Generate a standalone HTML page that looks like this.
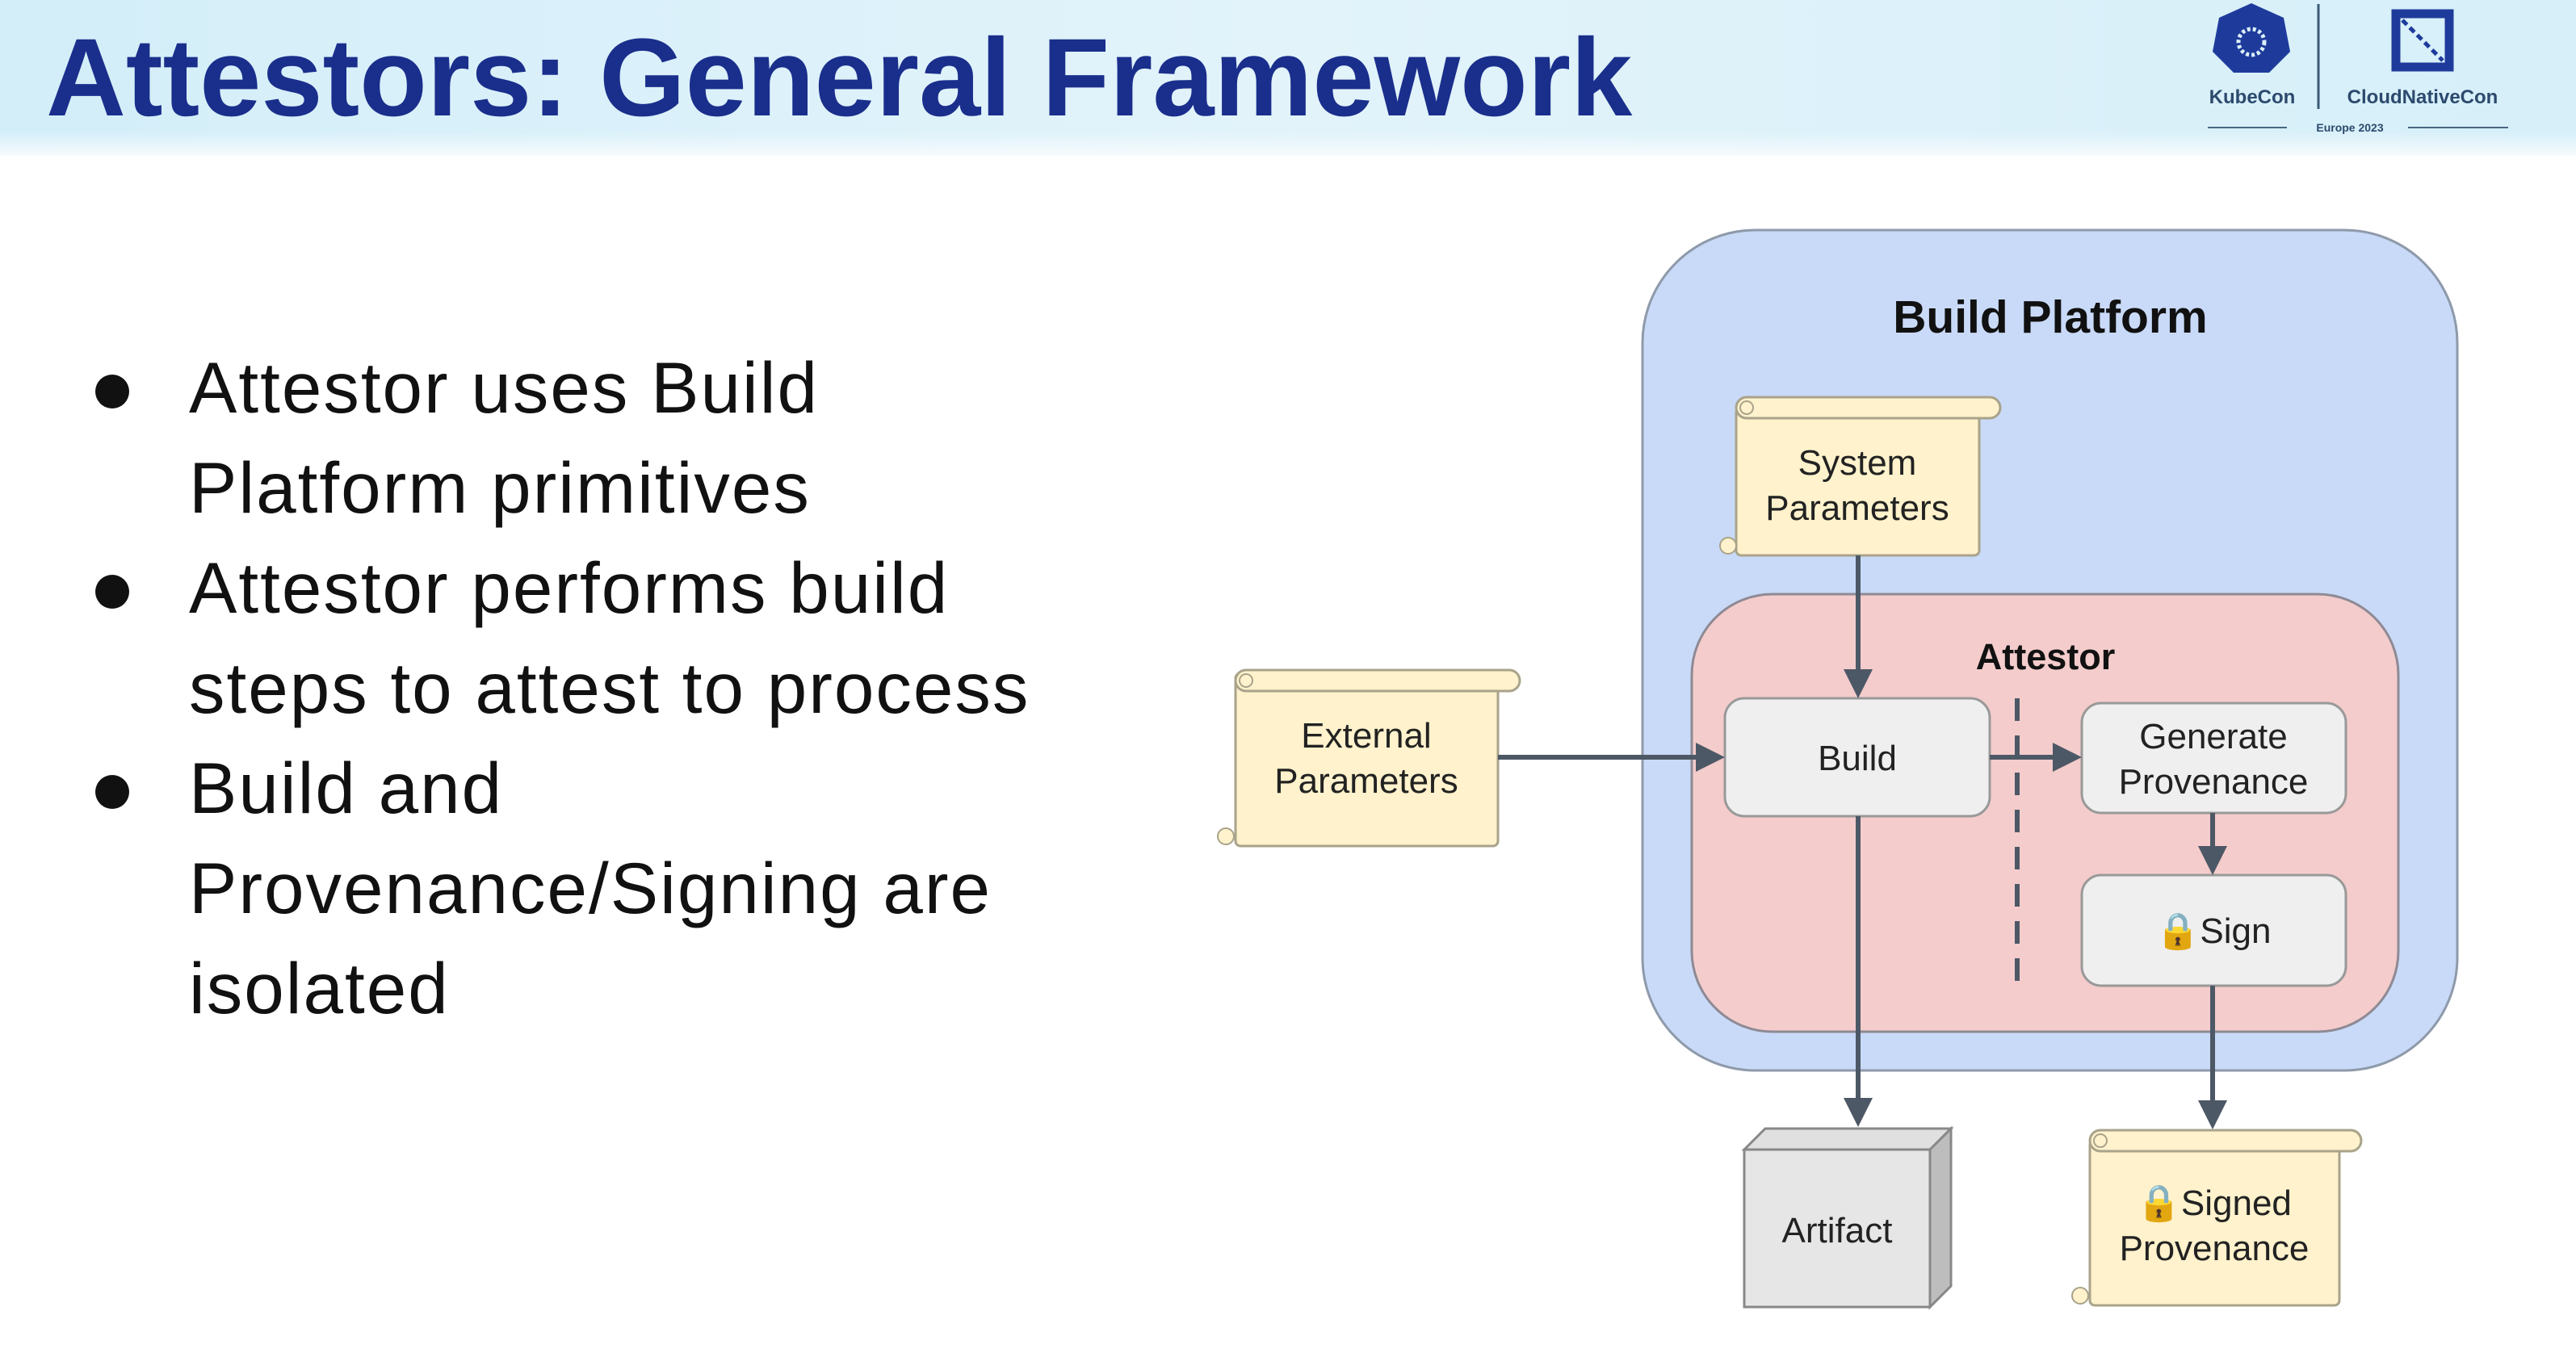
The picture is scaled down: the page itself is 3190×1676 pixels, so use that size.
<!DOCTYPE html>
<html><head><meta charset="utf-8"><style>
html,body{margin:0;padding:0;}
body{width:3190px;height:1676px;position:relative;overflow:hidden;background:#fff;font-family:"Liberation Sans",sans-serif;}
.hdr{position:absolute;left:0;top:0;width:3190px;height:193px;background:linear-gradient(90deg,#d3eef9 0%,#e2f3fa 50%,#d6eff9 100%);}
.hdr:after{content:"";position:absolute;left:0;right:0;bottom:0;height:30px;background:linear-gradient(#e4f4fa00,#f6fbfd);}
.title{position:absolute;left:57px;top:18px;font-size:137px;font-weight:bold;color:#1a2e8c;white-space:nowrap;}
.bul{position:absolute;left:234px;font-size:89px;letter-spacing:2px;color:#111;white-space:nowrap;line-height:124px;}
.dot{position:absolute;left:118px;width:42px;height:42px;border-radius:50%;background:#111;}
</style></head><body>
<div class="hdr"></div>
<div class="title">Attestors: General Framework</div>
<svg style="position:absolute;left:0;top:0" width="3190" height="200">
 <g fill="#1e3b9c">
  <polygon points="2788,4 2828,22 2836,64 2810,90 2766,90 2740,64 2748,22"/>
 </g>
 <circle cx="2788" cy="52" r="16" fill="none" stroke="#dceff8" stroke-width="5" stroke-dasharray="4 3"/>
 <line x1="2871" y1="5" x2="2871" y2="135" stroke="#3b5a78" stroke-width="3"/>
 <rect x="2967" y="17" width="66" height="66" fill="none" stroke="#1e3b9c" stroke-width="11"/>
 <line x1="2975" y1="25" x2="3025" y2="75" stroke="#1e3b9c" stroke-width="5" stroke-dasharray="8 5"/>
 <text x="2789" y="128" font-size="24" font-weight="bold" fill="#2c4a6e" text-anchor="middle">KubeCon</text>
 <text x="3000" y="128" font-size="24" font-weight="bold" fill="#2c4a6e" text-anchor="middle">CloudNativeCon</text>
 <text x="2910" y="163" font-size="14" font-weight="bold" fill="#2c4a6e" text-anchor="middle">Europe 2023</text>
 <line x1="2734" y1="158" x2="2832" y2="158" stroke="#4a6680" stroke-width="2"/>
 <line x1="2982" y1="158" x2="3106" y2="158" stroke="#4a6680" stroke-width="2"/>
</svg>

<div class="dot" style="top:464px"></div>
<div class="dot" style="top:712px"></div>
<div class="dot" style="top:960px"></div>
<div class="bul" style="top:418px">Attestor uses Build<br>Platform primitives</div>
<div class="bul" style="top:666px">Attestor performs build<br>steps to attest to process</div>
<div class="bul" style="top:914px">Build and<br>Provenance/Signing are<br>isolated</div>

<svg style="position:absolute;left:0;top:0" width="3190" height="1676" font-family="Liberation Sans, sans-serif">
 <defs>
  <marker id="ah" markerWidth="6" markerHeight="6" refX="5" refY="3" orient="auto" markerUnits="strokeWidth">
   <path d="M0,0 L6,3 L0,6 z" fill="#4d5866"/>
  </marker>
 </defs>
 <rect x="2034" y="285" width="1009" height="1041" rx="140" fill="#c9daf8" stroke="#8e9aaa" stroke-width="3"/>
 <text x="2539" y="412" font-size="57" font-weight="bold" fill="#111" text-anchor="middle">Build Platform</text>
 <rect x="2150" y="505" width="301" height="183" rx="6" fill="#fff2cc" stroke="#a9a38a" stroke-width="3"/>
 <rect x="2150" y="492" width="327" height="26" rx="13" fill="#fff2cc" stroke="#a9a38a" stroke-width="3"/>
 <circle cx="2163" cy="505" r="8" fill="#fff2cc" stroke="#a9a38a" stroke-width="2"/>
 <circle cx="2140" cy="676" r="10" fill="#fff2cc" stroke="#a9a38a" stroke-width="2"/>
 <text x="2300" y="588" font-size="44" fill="#222" text-anchor="middle">System</text>
 <text x="2300" y="644" font-size="44" fill="#222" text-anchor="middle">Parameters</text>
 <rect x="2095" y="736" width="875" height="542" rx="100" fill="#f4cccc" stroke="#8e8a94" stroke-width="3"/>
 <text x="2533" y="829" font-size="45" font-weight="bold" fill="#111" text-anchor="middle">Attestor</text>
 <rect x="2136" y="865" width="328" height="146" rx="24" fill="#efefef" stroke="#999" stroke-width="3"/>
 <text x="2300" y="954" font-size="44" fill="#222" text-anchor="middle">Build</text>
 <rect x="2578" y="871" width="327" height="136" rx="24" fill="#efefef" stroke="#999" stroke-width="3"/>
 <text x="2741" y="927" font-size="44" fill="#222" text-anchor="middle">Generate</text>
 <text x="2741" y="983" font-size="44" fill="#222" text-anchor="middle">Provenance</text>
 <rect x="2578" y="1084" width="327" height="137" rx="24" fill="#efefef" stroke="#999" stroke-width="3"/>
 <text x="2741" y="1168" font-size="44" fill="#222" text-anchor="middle">🔒Sign</text>
 <line x1="2498" y1="865" x2="2498" y2="1221" stroke="#4d5866" stroke-width="6" stroke-dasharray="28 18"/>
 <rect x="1530" y="834" width="325" height="214" rx="6" fill="#fff2cc" stroke="#a9a38a" stroke-width="3"/>
 <rect x="1530" y="830" width="352" height="26" rx="13" fill="#fff2cc" stroke="#a9a38a" stroke-width="3"/>
 <circle cx="1543" cy="843" r="8" fill="#fff2cc" stroke="#a9a38a" stroke-width="2"/>
 <circle cx="1518" cy="1036" r="10" fill="#fff2cc" stroke="#a9a38a" stroke-width="2"/>
 <text x="1692" y="926" font-size="44" fill="#222" text-anchor="middle">External</text>
 <text x="1692" y="982" font-size="44" fill="#222" text-anchor="middle">Parameters</text>
 <polygon points="2160,1424 2186,1398 2416,1398 2390,1424" fill="#e0e0e0" stroke="#888" stroke-width="3"/>
 <polygon points="2390,1424 2416,1398 2416,1593 2390,1619" fill="#bdbdbd" stroke="#888" stroke-width="3"/>
 <rect x="2160" y="1424" width="230" height="195" fill="#e6e6e6" stroke="#888" stroke-width="3"/>
 <text x="2275" y="1539" font-size="44" fill="#222" text-anchor="middle">Artifact</text>
 <rect x="2588" y="1412" width="309" height="205" rx="6" fill="#fff2cc" stroke="#a9a38a" stroke-width="3"/>
 <rect x="2588" y="1400" width="336" height="26" rx="13" fill="#fff2cc" stroke="#a9a38a" stroke-width="3"/>
 <circle cx="2601" cy="1413" r="8" fill="#fff2cc" stroke="#a9a38a" stroke-width="2"/>
 <circle cx="2576" cy="1605" r="10" fill="#fff2cc" stroke="#a9a38a" stroke-width="2"/>
 <text x="2742" y="1505" font-size="44" fill="#222" text-anchor="middle">🔒Signed</text>
 <text x="2742" y="1561" font-size="44" fill="#222" text-anchor="middle">Provenance</text>
 <g stroke="#4d5866" stroke-width="6" fill="none" marker-end="url(#ah)">
  <line x1="1855" y1="938" x2="2130" y2="938"/>
  <line x1="2301" y1="688" x2="2301" y2="859"/>
  <line x1="2464" y1="938" x2="2572" y2="938"/>
  <line x1="2740" y1="1007" x2="2740" y2="1078"/>
  <line x1="2301" y1="1011" x2="2301" y2="1390"/>
  <line x1="2740" y1="1221" x2="2740" y2="1393"/>
 </g>
</svg>
</body></html>
